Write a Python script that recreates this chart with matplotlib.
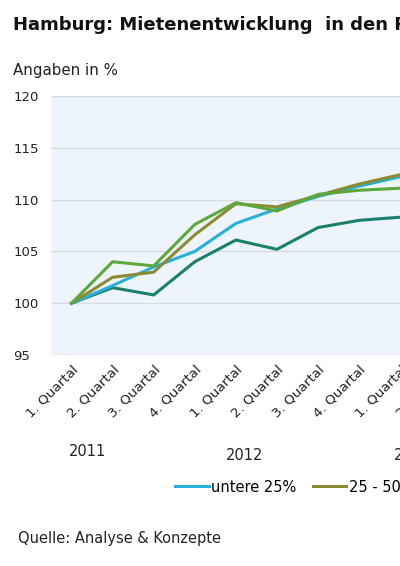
import numpy as np
import matplotlib
matplotlib.use('Agg')
import matplotlib.pyplot as plt
import matplotlib.transforms as mtransforms

plt.rcParams['font.family'] = ['DejaVu Sans']

# quarters shown on the axis (2011 - 2013)
quarters = ['1. Quartal', '2. Quartal', '3. Quartal', '4. Quartal'] * 3
years = ['2011', '2012', '2013']

# index values (1. Quartal 2011 = 100)
untere_25 = [100, 101.7, 103.5, 105.0, 107.7, 109.1, 110.3, 111.3, 112.2]
p25_50 = [100, 102.5, 103.0, 106.6, 109.6, 109.3, 110.4, 111.5, 112.4]
p50_75 = [100, 104.0, 103.6, 107.6, 109.7, 108.9, 110.5, 110.9, 111.1]
obere_25 = [100, 101.5, 100.8, 104.0, 106.1, 105.2, 107.3, 108.0, 108.3]

labels = ['untere 25%', '25 - 50 %', '50 - 75 %', 'obere 25%']
colors = ['#27b0dc', '#8c8a34', '#5ca83a', '#1b7f70']

fig = plt.figure(figsize=(4, 5.66), dpi=100)
ax = fig.add_axes([51 / 400, 1 - 355 / 566, 493 / 400, 259 / 566])
ax.set_facecolor('#eef4fb')

x = np.arange(len(untere_25))
# draw order: teal at the back, green on top
ax.plot(x, obere_25, color=colors[3], lw=2.2, label=labels[3], zorder=3)
ax.plot(x, untere_25, color=colors[0], lw=2.2, label=labels[0], zorder=4)
ax.plot(x, p25_50, color=colors[1], lw=2.2, label=labels[1], zorder=5)
ax.plot(x, p50_75, color=colors[2], lw=2.2, label=labels[2], zorder=6)

ax.set_xlim(-0.5, len(quarters) - 0.5)
ax.set_ylim(95, 120)
ax.set_yticks(np.arange(95, 121, 5))
ax.yaxis.grid(True, color='#d6dbe1', lw=1)
ax.set_axisbelow(True)
for s in ax.spines.values():
    s.set_visible(False)

ax.set_xticks(np.arange(len(quarters)))
ax.set_xticklabels(quarters, rotation=45, ha='right', rotation_mode='anchor',
                   fontsize=9.7, color='#222222')
ax.tick_params(axis='x', length=0, pad=6)
ax.tick_params(axis='y', length=0, labelsize=9.5, labelcolor='#222222')
for t in ax.get_yticklabels():
    t.set_horizontalalignment('left')
ax.yaxis.set_tick_params(pad=27)

# year labels under the quarter labels
trans = mtransforms.blended_transform_factory(ax.transData, fig.transFigure)
for xpos, yr, ypx in zip([0.4, 4.2, 8.3], years, [452, 455, 455]):
    ax.text(xpos, 1 - ypx / 566, yr, transform=trans, ha='center', va='center',
            fontsize=10.5, color='#222222', clip_on=False)

handles, labs = ax.get_legend_handles_labels()
order = [1, 2, 3, 0]
fig.legend([handles[i] for i in order], [labs[i] for i in order],
           loc='center left', bbox_to_anchor=(175 / 400, 1 - 487 / 566),
           ncol=4, frameon=False, fontsize=10.5, handlelength=2.3,
           handletextpad=0.2, columnspacing=1.1, borderaxespad=0,
           borderpad=0)

fig.text(13 / 400, 1 - 25 / 566, 'Hamburg: Mietenentwicklung  in den Preissegmenten',
         fontsize=13, fontweight='bold', ha='left', va='center', color='#111111')
fig.text(13 / 400, 1 - 70 / 566, 'Angaben in %', fontsize=10.8, ha='left',
         va='center', color='#222222')
fig.text(18 / 400, 1 - 538 / 566, 'Quelle: Analyse & Konzepte', fontsize=10.5,
         ha='left', va='center', color='#222222')

fig.savefig('out.png', dpi=100)
